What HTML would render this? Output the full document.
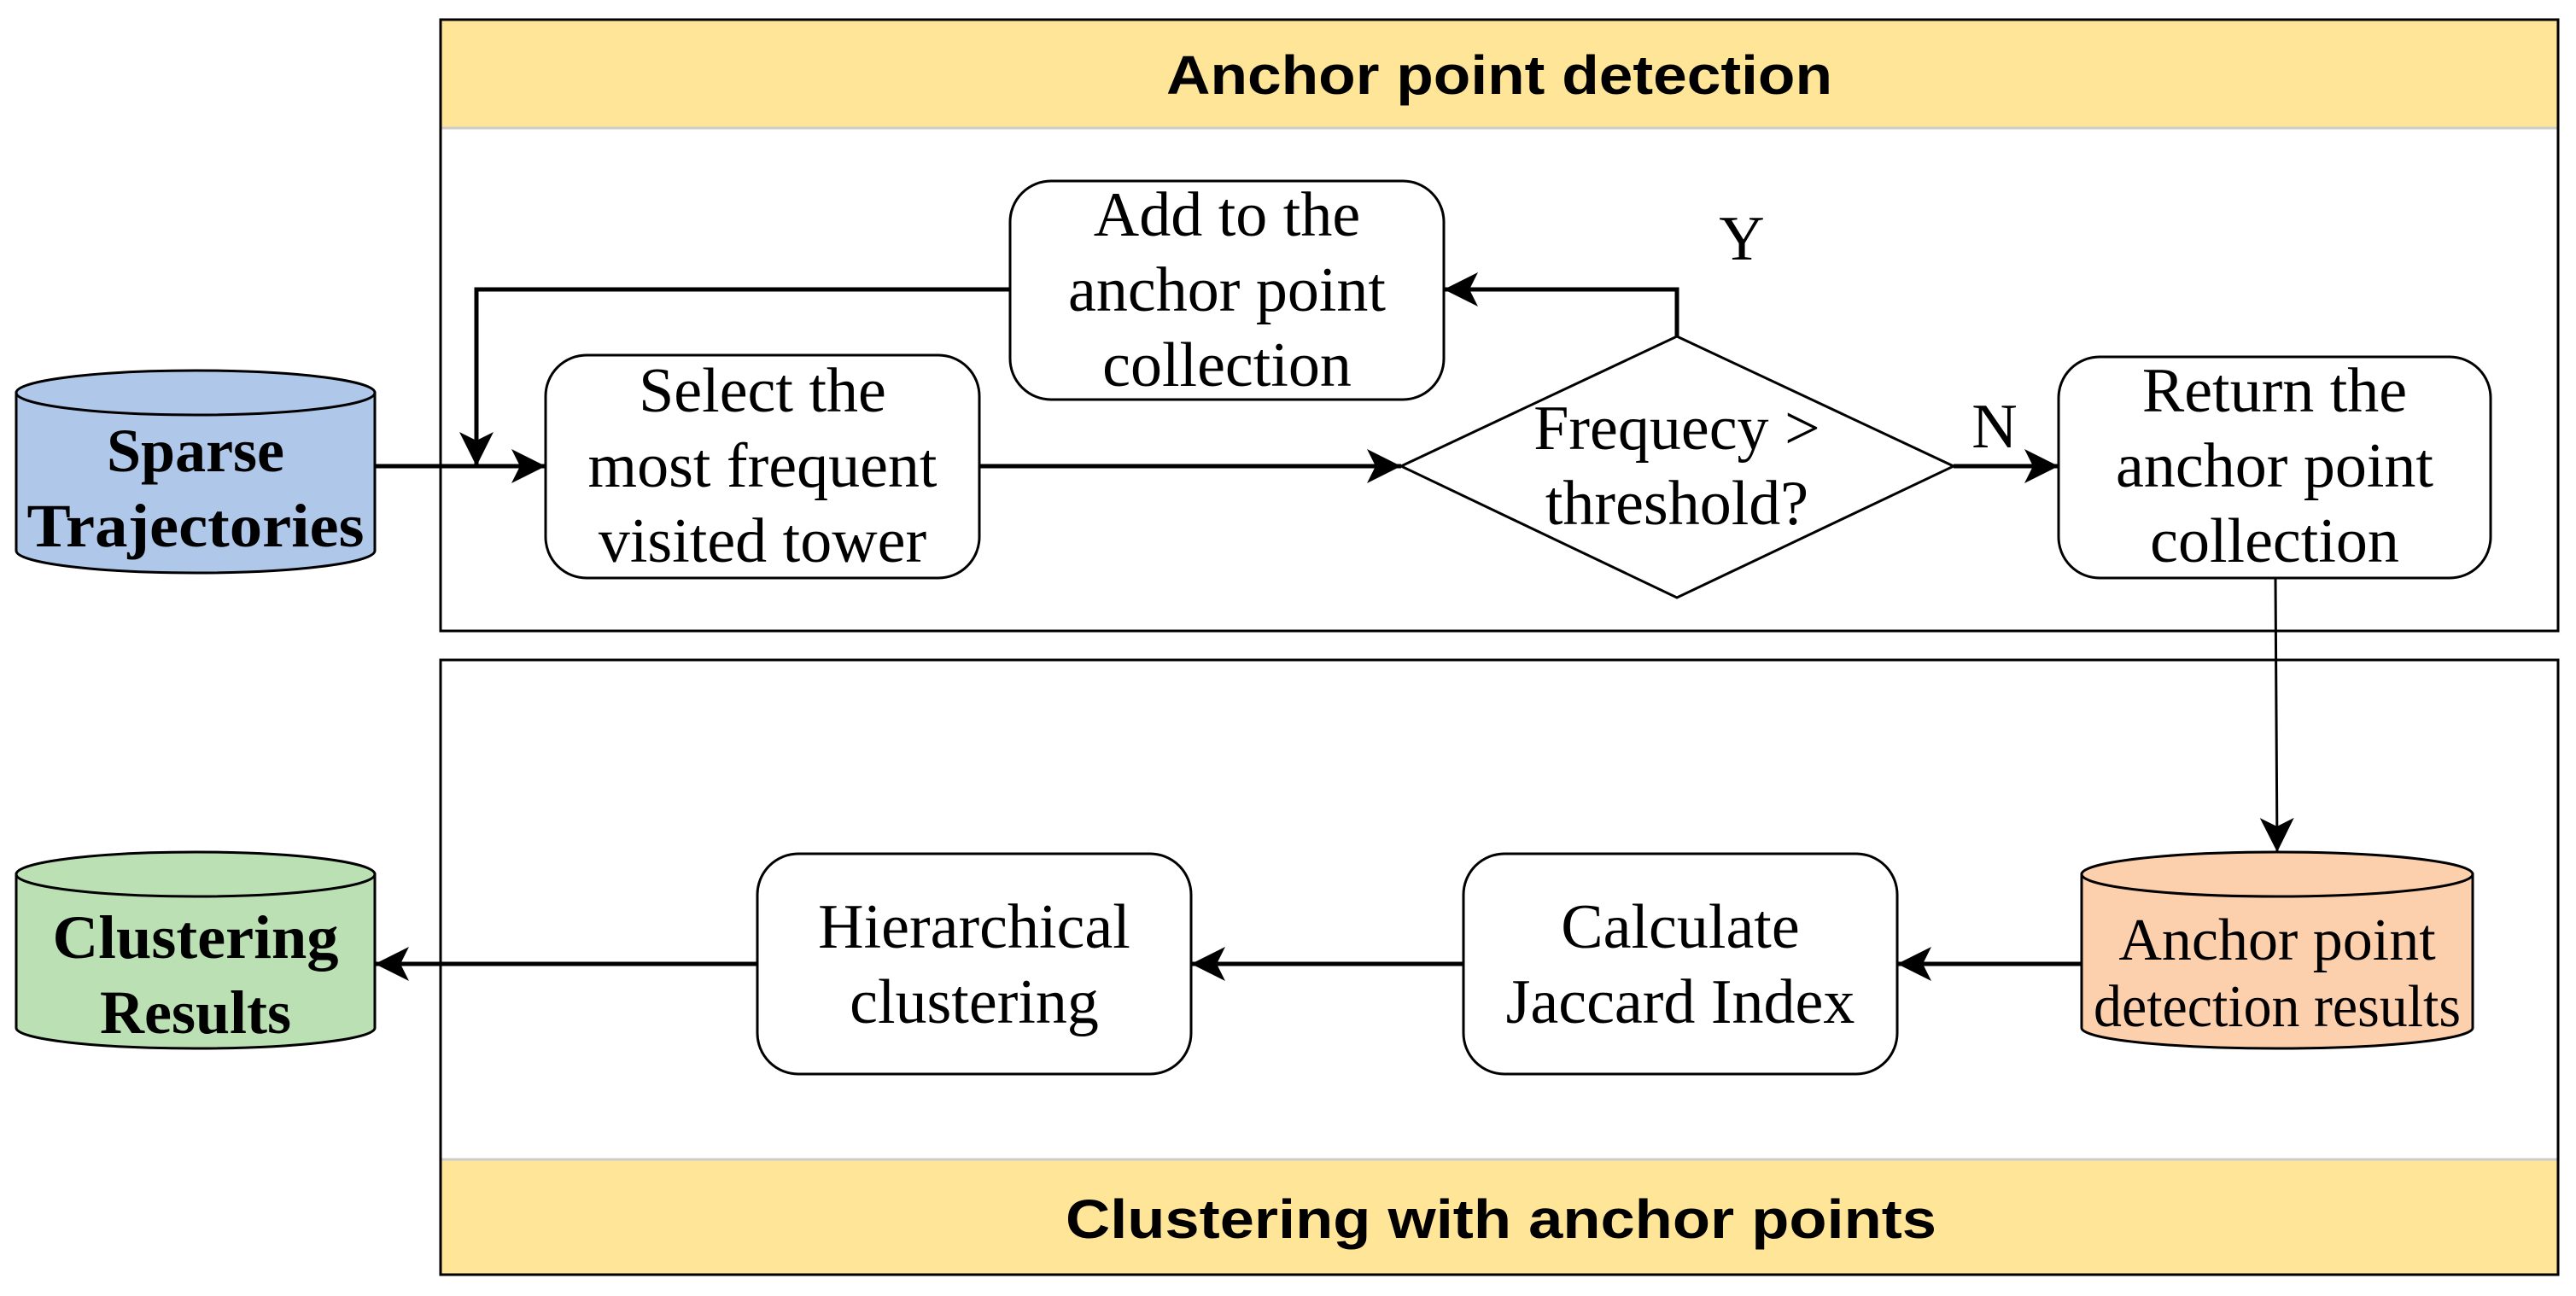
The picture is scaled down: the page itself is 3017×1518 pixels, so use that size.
<!DOCTYPE html>
<html><head><meta charset="utf-8"><style>html,body{margin:0;padding:0;background:#fff}svg{display:block}</style></head>
<body>
<svg width="3017" height="1518" viewBox="0 0 3017 1518" xmlns="http://www.w3.org/2000/svg">
<defs>
<marker id="a" viewBox="0 0 20 20" refX="20" refY="10" markerWidth="40" markerHeight="40" markerUnits="userSpaceOnUse" orient="auto">
<path d="M0,0 L20,10 L0,20 L5,10 Z" fill="#000"/>
</marker>
</defs>
<rect x="516" y="23" width="2480" height="127" fill="#FFE597"/>
<line x1="516" y1="150" x2="2996" y2="150" stroke="#ccc" stroke-width="3"/>
<rect x="516" y="23" width="2480" height="716" fill="none" stroke="#000" stroke-width="3"/>
<text x="1756" y="110" font-family="Liberation Sans, sans-serif" font-weight="bold" font-size="64" text-anchor="middle" textLength="780" lengthAdjust="spacingAndGlyphs">Anchor point detection</text>
<rect x="516" y="1358" width="2480" height="135" fill="#FFE597"/>
<line x1="516" y1="1358" x2="2996" y2="1358" stroke="#ccc" stroke-width="3"/>
<rect x="516" y="773" width="2480" height="720" fill="none" stroke="#000" stroke-width="3"/>
<text x="1758" y="1450" font-family="Liberation Sans, sans-serif" font-weight="bold" font-size="64" text-anchor="middle" textLength="1020" lengthAdjust="spacingAndGlyphs">Clustering with anchor points</text>

<g font-family="Liberation Serif, serif" font-size="74" text-anchor="middle">
<path d="M19,460 L19,645 A210,26 0 0 0 439,645 L439,460 Z" fill="#AFC7E8" stroke="#000" stroke-width="3"/>
<ellipse cx="229" cy="460" rx="210" ry="26" fill="#AFC7E8" stroke="#000" stroke-width="3"/>
<text x="229" y="552" font-weight="bold" font-size="72">Sparse</text>
<text x="229" y="640" font-weight="bold" font-size="72" textLength="395" lengthAdjust="spacingAndGlyphs">Trajectories</text>

<rect x="639" y="416" width="508" height="261" rx="48" fill="#fff" stroke="#000" stroke-width="3"/>
<text x="893" y="482">Select the</text>
<text x="893" y="570">most frequent</text>
<text x="893" y="658">visited tower</text>

<rect x="1183" y="212" width="508" height="256" rx="48" fill="#fff" stroke="#000" stroke-width="3"/>
<text x="1437" y="276">Add to the</text>
<text x="1437" y="364">anchor point</text>
<text x="1437" y="452">collection</text>

<path d="M1964,394 L2288,546 L1964,700 L1641,546 Z" fill="#fff" stroke="#000" stroke-width="3"/>
<text x="1964" y="526">Frequecy &gt;</text>
<text x="1964" y="614">threshold?</text>
<text x="2040" y="304">Y</text>
<text x="2336" y="524">N</text>

<rect x="2411" y="418" width="506" height="259" rx="48" fill="#fff" stroke="#000" stroke-width="3"/>
<text x="2664" y="482">Return the</text>
<text x="2664" y="570">anchor point</text>
<text x="2664" y="658">collection</text>

<path d="M2438,1024 L2438,1204 A229,24 0 0 0 2896,1204 L2896,1024 Z" fill="#FCCFAD" stroke="#000" stroke-width="3"/>
<ellipse cx="2667" cy="1024" rx="229" ry="26" fill="#FCCFAD" stroke="#000" stroke-width="3"/>
<text x="2667" y="1124" font-size="70">Anchor point</text>
<text x="2667" y="1202" font-size="70" textLength="430" lengthAdjust="spacingAndGlyphs">detection results</text>

<rect x="1714" y="1000" width="508" height="258" rx="48" fill="#fff" stroke="#000" stroke-width="3"/>
<text x="1968" y="1110">Calculate</text>
<text x="1968" y="1198">Jaccard Index</text>

<rect x="887" y="1000" width="508" height="258" rx="48" fill="#fff" stroke="#000" stroke-width="3"/>
<text x="1141" y="1110">Hierarchical</text>
<text x="1141" y="1198">clustering</text>

<path d="M19,1024 L19,1204 A210,24 0 0 0 439,1204 L439,1024 Z" fill="#BBE0B3" stroke="#000" stroke-width="3"/>
<ellipse cx="229" cy="1024" rx="210" ry="26" fill="#BBE0B3" stroke="#000" stroke-width="3"/>
<text x="229" y="1122" font-weight="bold" font-size="72" textLength="335" lengthAdjust="spacingAndGlyphs">Clustering</text>
<text x="229" y="1210" font-weight="bold" font-size="72">Results</text>
</g>

<g stroke="#000" stroke-width="5" fill="none">
<line x1="439" y1="546" x2="639" y2="546" marker-end="url(#a)"/>
<line x1="1147" y1="546" x2="1641" y2="546" marker-end="url(#a)"/>
<line x1="2288" y1="546" x2="2411" y2="546" marker-end="url(#a)"/>
<polyline points="1964,394 1964,339 1691,339" marker-end="url(#a)"/>
<polyline points="1183,339 558,339 558,546" marker-end="url(#a)"/>
<line x1="2665" y1="677" x2="2667" y2="998" stroke-width="3" marker-end="url(#a)"/>
<line x1="2438" y1="1129" x2="2222" y2="1129" marker-end="url(#a)"/>
<line x1="1714" y1="1129" x2="1395" y2="1129" marker-end="url(#a)"/>
<line x1="887" y1="1129" x2="439" y2="1129" marker-end="url(#a)"/>
</g>
</svg>
</body></html>
